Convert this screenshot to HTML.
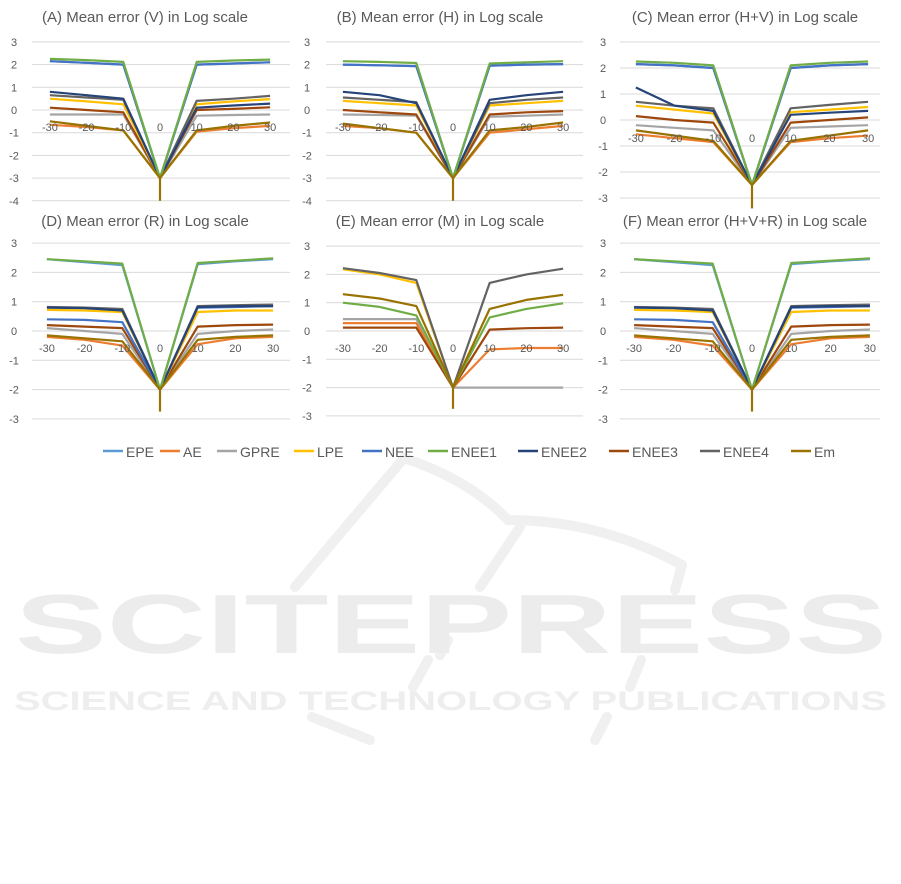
<!DOCTYPE html>
<html><head><meta charset="utf-8"><style>
html,body{margin:0;padding:0;background:#fff;}
svg{display:block;font-family:"Liberation Sans",sans-serif;}
</style></head><body>
<svg id="s" width="901" height="884" viewBox="0 0 901 884" xmlns="http://www.w3.org/2000/svg">
<g fill="none" stroke="#f0f0f0" stroke-width="10" stroke-linecap="round">
<path d="M404 458 L295 587"/>
<path d="M404 458 Q470 480 508 520 Q600 520 682 565"/>
<path d="M520 527 L480 587"/>
<path d="M682 565 L675 590"/>
<path d="M448 640 L440 655"/>
<path d="M428 660 L413 687"/>
<path d="M641 660 L630 687"/>
<path d="M312 717 L370 740"/>
<path d="M607 717 L595 740"/>
</g>
<text x="15" y="653" font-size="84" font-weight="bold" fill="#ececec" textLength="872" lengthAdjust="spacingAndGlyphs">SCITEPRESS</text>
<text x="14" y="710" font-size="27" font-weight="bold" fill="#eeeeee" textLength="873" lengthAdjust="spacingAndGlyphs">SCIENCE AND TECHNOLOGY PUBLICATIONS</text>
</svg>
<script>
const S=document.getElementById('s');const NS='http://www.w3.org/2000/svg';
function el(t,a,txt){const e=document.createElementNS(NS,t);for(const k in a)e.setAttribute(k,a[k]);if(txt!==undefined)e.textContent=txt;S.appendChild(e);return e;}
const C={EPE:'#5b9bd5',AE:'#ed7d31',GPRE:'#a5a5a5',LPE:'#ffc000',NEE:'#4472c4',ENEE1:'#70ad47',ENEE2:'#264478',ENEE3:'#9e480e',ENEE4:'#636363',Em:'#997300'};
const X=[-30,-20,-10,0,10,20,30];
function panel(p){
  const ys=v=>p.y0-(v)*p.u; const xs=v=>p.xc+v*p.xu;
  el('text',{x:p.tx,y:p.ty,'font-size':15,fill:'#595959','text-anchor':'middle'},p.title);
  for(let v=p.ymax;v>=p.ymin;v--){
    el('line',{x1:p.gx1,x2:p.gx2,y1:ys(v),y2:ys(v),stroke:'#d9d9d9','stroke-width':1});
    el('text',{x:p.lx,y:ys(v)+4,'font-size':11,fill:'#595959','text-anchor':'middle'},String(v));
  }
  for(const s of p.series){
    const pts=s[1].map((v,i)=>v===null?null:[xs(X[i]),ys(v)]);
    let d='';let pen=false;pts.forEach(q=>{if(!q){pen=false;return;}d+=(pen?'L':'M')+q[0].toFixed(1)+' '+q[1].toFixed(1);pen=true;});
    el('path',{d:d,fill:'none',stroke:C[s[0]],'stroke-width':2.2,'stroke-linejoin':'round'});
  }
  el('line',{x1:xs(0),x2:xs(0),y1:ys(p.c),y2:ys(p.spike),stroke:C.Em,'stroke-width':2.2});
  X.forEach(v=>el('text',{x:xs(v),y:p.ax,'font-size':11,fill:'#595959','text-anchor':'middle'},String(v)));
}
const A={title:'(A) Mean error (V) in Log scale',tx:145,ty:22,y0:110,u:22.7,xc:160,xu:3.67,gx1:32,gx2:290,lx:14,ymax:3,ymin:-4,c:-3,spike:-4,ax:131,series:[
['AE',[-0.65,-0.75,-0.9,-3,-0.95,-0.8,-0.7]],['GPRE',[-0.2,-0.2,-0.2,-3,-0.25,-0.22,-0.2]],['ENEE3',[0.1,0,-0.1,-3,0,0.05,0.12]],['LPE',[0.5,0.38,0.25,-3,0.25,0.38,0.48]],['ENEE4',[0.65,0.55,0.45,-3,0.4,0.5,0.62]],['ENEE2',[0.8,0.65,0.5,-3,0.1,0.2,0.28]],['EPE',[2.15,2.08,2.0,-3,2.0,2.05,2.1]],['NEE',[2.15,2.08,2.0,-3,2.0,2.05,2.1]],['ENEE1',[2.25,2.2,2.12,-3,2.12,2.18,2.22]],['Em',[-0.5,-0.7,-0.9,-3,-0.9,-0.7,-0.55]]]};
const B={title:'(B) Mean error (H) in Log scale',tx:440,ty:22,y0:110,u:22.7,xc:453,xu:3.67,gx1:326,gx2:583,lx:307,ymax:3,ymin:-4,c:-3,spike:-4,ax:131,series:[
['AE',[-0.7,-0.8,-1,-3,-1,-0.85,-0.7]],['GPRE',[-0.2,-0.22,-0.25,-3,-0.3,-0.25,-0.2]],['ENEE3',[0,-0.1,-0.2,-3,-0.2,-0.1,-0.05]],['LPE',[0.4,0.3,0.2,-3,0.2,0.3,0.4]],['ENEE4',[0.55,0.45,0.35,-3,0.3,0.45,0.55]],['ENEE2',[0.8,0.65,0.3,-3,0.45,0.65,0.8]],['EPE',[2.0,1.97,1.93,-3,1.95,2.0,2.02]],['NEE',[2.0,1.97,1.93,-3,1.95,2.0,2.02]],['ENEE1',[2.15,2.12,2.07,-3,2.05,2.1,2.15]],['Em',[-0.6,-0.8,-1,-3,-0.9,-0.75,-0.55]]]};
const Cc={title:'(C) Mean error (H+V) in Log scale',tx:745,ty:22,y0:120,u:26,xc:752,xu:3.87,gx1:620,gx2:880,lx:603,ymax:3,ymin:-3,c:-2.5,spike:-3.4,ax:142,series:[
['AE',[-0.55,-0.7,-0.85,-2.5,-0.85,-0.7,-0.6]],['GPRE',[-0.2,-0.3,-0.4,-2.5,-0.3,-0.25,-0.2]],['ENEE3',[0.15,0,-0.1,-2.5,-0.1,0,0.1]],['LPE',[0.55,0.4,0.25,-2.5,0.3,0.4,0.5]],['ENEE4',[0.7,0.55,0.45,-2.5,0.45,0.58,0.7]],['ENEE2',[1.25,0.55,0.35,-2.5,0.2,0.28,0.35]],['EPE',[2.15,2.1,2.0,-2.5,2.0,2.1,2.15]],['NEE',[2.15,2.1,2.0,-2.5,2.0,2.1,2.15]],['ENEE1',[2.25,2.2,2.1,-2.5,2.1,2.2,2.25]],['Em',[-0.4,-0.6,-0.8,-2.5,-0.8,-0.6,-0.4]]]};
const dser=[['AE',[-0.2,-0.3,-0.5,-2,-0.45,-0.25,-0.2]],['GPRE',[0.1,0,-0.1,-2,-0.1,0,0.05]],['ENEE3',[0.2,0.15,0.1,-2,0.15,0.2,0.22]],['LPE',[0.72,0.7,0.65,-2,0.65,0.7,0.7]],['NEE',[0.4,0.38,0.3,-2,0.8,0.82,0.85]],['ENEE4',[0.82,0.8,0.75,-2,0.85,0.88,0.9]],['ENEE2',[0.8,0.78,0.7,-2,0.82,0.85,0.85]],['EPE',[2.45,2.35,2.25,-2,2.28,2.38,2.45]],['ENEE1',[2.45,2.38,2.3,-2,2.32,2.4,2.48]],['Em',[-0.15,-0.25,-0.35,-2,-0.3,-0.2,-0.15]]];
const D={title:'(D) Mean error (R) in Log scale',tx:145,ty:226,y0:331,u:29.3,xc:160,xu:3.77,gx1:32,gx2:290,lx:14,ymax:3,ymin:-3,c:-2,spike:-2.75,ax:352,series:dser};
const E={title:'(E) Mean error (M) in Log scale',tx:440,ty:226,y0:331,u:28.3,xc:453,xu:3.67,gx1:326,gx2:583,lx:307,ymax:3,ymin:-3,c:-2,spike:-2.75,ax:352,series:[
['GPRE',[0.42,0.42,0.42,-2,-2,-2,-2]],['AE',[0.28,0.28,0.28,-2,-0.65,-0.6,-0.6]],['ENEE3',[0.12,0.12,0.12,-2,0.05,0.1,0.12]],['ENEE1',[1.0,0.85,0.55,-2,0.48,0.78,0.98]],['LPE',[2.18,2.0,1.7,-2,null,null,null]],['ENEE4',[2.22,2.05,1.8,-2,1.7,2.0,2.2]],['Em',[1.3,1.15,0.88,-2,0.78,1.1,1.28]]]};
const F={title:'(F) Mean error (H+V+R) in Log scale',tx:745,ty:226,y0:331,u:29.3,xc:752,xu:3.93,gx1:620,gx2:880,lx:603,ymax:3,ymin:-3,c:-2,spike:-2.75,ax:352,series:dser};
[A,B,Cc,D,E,F].forEach(panel);
const L=[['EPE',103],['AE',160],['GPRE',217],['LPE',294],['NEE',362],['ENEE1',428],['ENEE2',518],['ENEE3',609],['ENEE4',700],['Em',791]];
L.forEach(([n,x])=>{el('line',{x1:x,x2:x+20,y1:451,y2:451,stroke:C[n],'stroke-width':2.5});el('text',{x:x+23,y:457,'font-size':14,fill:'#595959'},n);});
</script>
</body></html>
